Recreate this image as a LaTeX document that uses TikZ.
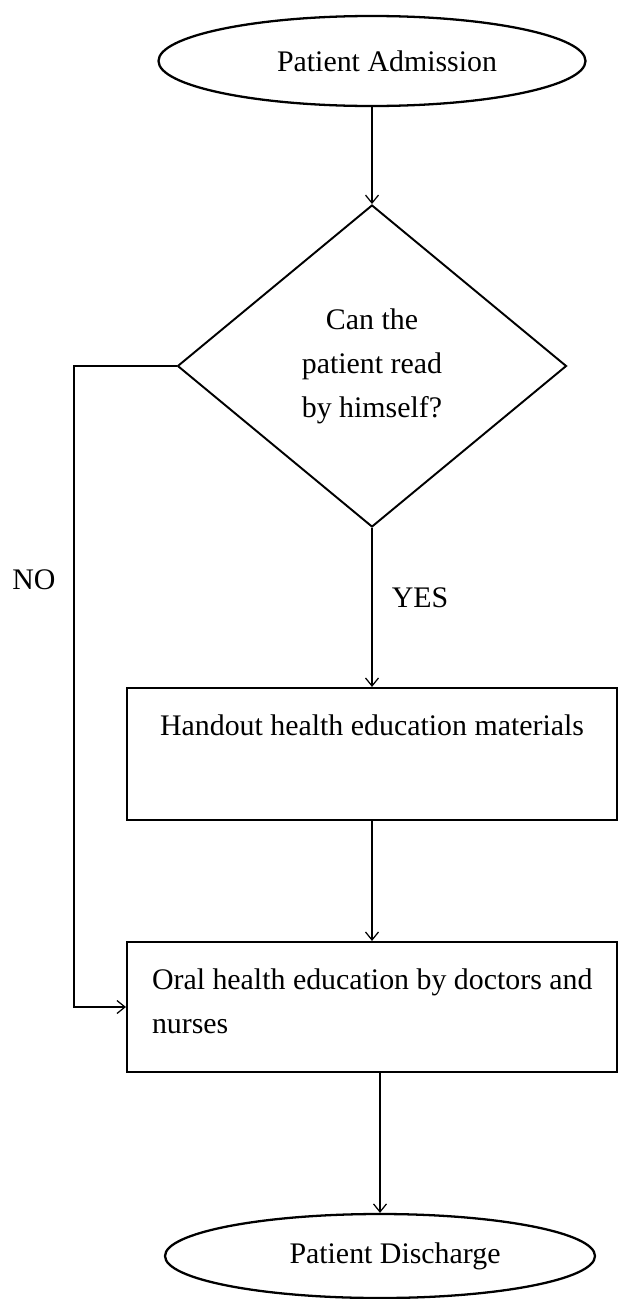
\documentclass[tikz,border=0pt]{standalone}
\usepackage{fontspec}
\setmainfont{Liberation Serif}
\usepackage{tikz}
\usetikzlibrary{arrows.meta,shapes.geometric}
\tikzset{>={Straight Barb[length=1.6mm,width=2.6mm]}}

\begin{document}
\begin{tikzpicture}[font=\fontsize{17}{25}\selectfont,
		terminal/.style={ellipse,draw,line width=1.3pt,inner sep=0pt},
		decision/.style={diamond,draw,line width=1.1pt,align=center,inner sep=0pt,minimum width=7.78cm,minimum height=6.44cm},
		stepbox/.style={rectangle,draw,line width=1.2pt,minimum width=9.8cm,inner xsep=0.4cm,inner ysep=0.54cm},
		flow/.style={->,line width=0.7pt}]
			\useasboundingbox (0,0) rectangle (12.38,-25.98);
			\node (adm) at (7.44,-1.22) [terminal,minimum width=8.54cm,minimum height=1.8cm] {\hspace{0.6cm}Patient Admission};
			\node (read) at (7.44,-7.32) [decision] {Can the\\patient read\\by himself?};
			\node (hand) at (7.44,-15.08) [stepbox] {\parbox[c][1.56cm][t]{9cm}{\centering Handout health education materials}};
			\node (oral) at (7.44,-20.14) [stepbox] {\parbox[c][1.52cm][t]{9cm}{\raggedright\leftskip=0.1cm Oral health education by doctors and\\nurses}};
			\node (dis) at (7.6,-25.12) [terminal,minimum width=8.6cm,minimum height=1.68cm] {\hspace{0.6cm}Patient Discharge};
			\node (yes) at (8.4,-11.96) {YES};
			\node (no) at (0.68,-11.6) {NO};
			\coordinate (turn) at (1.48,-7.32);
			\draw[flow] (adm) to (read);
			\draw[flow] (read) to (hand);
			\draw[flow] (hand) to (oral);
			\draw[flow] (oral.south -| dis.north) to (dis.north);
			\draw[flow] (read.west) -- (turn) |- (oral.west);
		\end{tikzpicture}
\end{document}
